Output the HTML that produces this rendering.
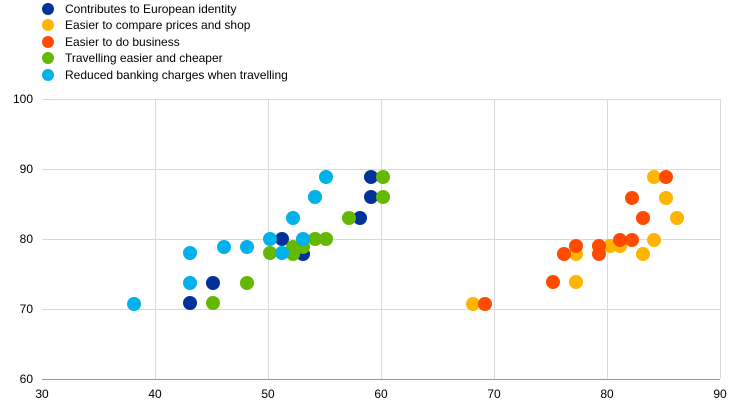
<!DOCTYPE html>
<html><head><style>body{margin:0;background:#fff}</style></head><body>
<svg width="744" height="407" xmlns="http://www.w3.org/2000/svg" font-family="Liberation Sans, Arial, sans-serif" font-size="12" fill="#000">
<g stroke="#d9d9d9" stroke-width="1">
<line x1="42" y1="99.5" x2="720" y2="99.5"/><line x1="42" y1="169.5" x2="720" y2="169.5"/>
<line x1="42" y1="239.5" x2="720" y2="239.5"/><line x1="42" y1="309.5" x2="720" y2="309.5"/>
<line x1="155.5" y1="99" x2="155.5" y2="379"/><line x1="268.5" y1="99" x2="268.5" y2="379"/>
<line x1="381.5" y1="99" x2="381.5" y2="379"/><line x1="494.5" y1="99" x2="494.5" y2="379"/>
<line x1="607.5" y1="99" x2="607.5" y2="379"/><line x1="720.5" y1="99" x2="720.5" y2="379"/>
</g>
<line x1="42" y1="379.5" x2="720" y2="379.5" stroke="#999"/>
<g text-anchor="end"><text x="33" y="103">100</text><text x="33" y="173">90</text><text x="33" y="243">80</text><text x="33" y="313">70</text><text x="33" y="383">60</text></g>
<g text-anchor="middle"><text x="42" y="398">30</text><text x="155" y="398">40</text><text x="268" y="398">50</text><text x="381" y="398">60</text><text x="494" y="398">70</text><text x="607" y="398">80</text><text x="720" y="398">90</text></g>
<g font-size="12">
<circle cx="48" cy="9" r="6" fill="#003299"/><text x="65" y="13">Contributes to European identity</text>
<circle cx="48" cy="25" r="6" fill="#ffb400"/><text x="65" y="29">Easier to compare prices and shop</text>
<circle cx="48" cy="42" r="6" fill="#ff4b00"/><text x="65" y="46">Easier to do business</text>
<circle cx="48" cy="58" r="6" fill="#65b800"/><text x="65" y="62">Travelling  easier and cheaper</text>
<circle cx="48" cy="75" r="6" fill="#00b1ea"/><text x="65" y="79">Reduced banking charges when travelling</text>
</g>
<g fill="#003299">
<circle cx="190" cy="303" r="7"/><circle cx="213" cy="283" r="7"/><circle cx="282" cy="239" r="7"/><circle cx="303" cy="254" r="7"/><circle cx="360" cy="218" r="7"/><circle cx="371" cy="177" r="7"/><circle cx="371" cy="197" r="7"/>
</g>
<g fill="#ffb400">
<circle cx="473" cy="304" r="7"/><circle cx="576" cy="282" r="7"/><circle cx="576" cy="254" r="7"/><circle cx="610" cy="246" r="7"/><circle cx="620" cy="246" r="7"/><circle cx="643" cy="254" r="7"/><circle cx="654" cy="240" r="7"/><circle cx="654" cy="177" r="7"/><circle cx="666" cy="198" r="7"/><circle cx="677" cy="218" r="7"/><circle cx="599" cy="246" r="7"/>
</g>
<g fill="#ff4b00">
<circle cx="485" cy="304" r="7"/><circle cx="553" cy="282" r="7"/><circle cx="564" cy="254" r="7"/><circle cx="576" cy="246" r="7"/><circle cx="599" cy="246" r="7"/><circle cx="599" cy="254" r="7"/><circle cx="620" cy="240" r="7"/><circle cx="632" cy="240" r="7"/><circle cx="643" cy="218" r="7"/><circle cx="632" cy="198" r="7"/><circle cx="666" cy="177" r="7"/>
</g>
<g fill="#65b800">
<circle cx="213" cy="303" r="7"/><circle cx="247" cy="283" r="7"/><circle cx="270" cy="253" r="7"/><circle cx="293" cy="254" r="7"/><circle cx="293" cy="247" r="7"/><circle cx="303" cy="247" r="7"/><circle cx="315" cy="239" r="7"/><circle cx="326" cy="239" r="7"/><circle cx="349" cy="218" r="7"/><circle cx="383" cy="177" r="7"/><circle cx="383" cy="197" r="7"/>
</g>
<g fill="#00b1ea">
<circle cx="134" cy="304" r="7"/><circle cx="190" cy="283" r="7"/><circle cx="190" cy="253" r="7"/><circle cx="224" cy="247" r="7"/><circle cx="247" cy="247" r="7"/><circle cx="270" cy="239" r="7"/><circle cx="282" cy="253" r="7"/><circle cx="293" cy="218" r="7"/><circle cx="303" cy="239" r="7"/><circle cx="315" cy="197" r="7"/><circle cx="326" cy="177" r="7"/>
</g>
</svg>
</body></html>
